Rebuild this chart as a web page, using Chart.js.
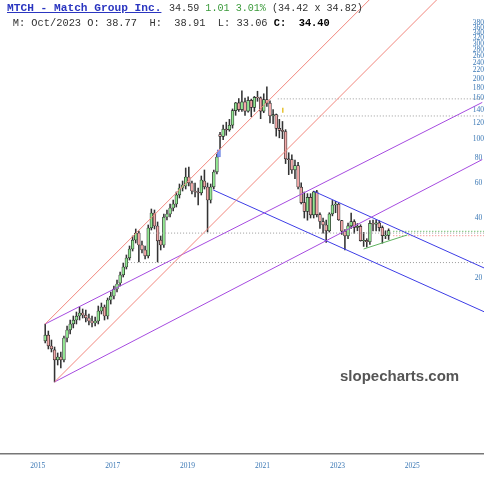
<!DOCTYPE html>
<html>
<head>
<meta charset="utf-8">
<script src="https://cdn.jsdelivr.net/npm/chart.js@4.4.1/dist/chart.umd.min.js"></script>
<style>
  body { margin: 0; background: #fff; }
  #wrap { position: relative; width: 484px; height: 480px; }
  .hd { position: absolute; white-space: pre; font-family: 'Liberation Mono', 'Courier New', monospace; color: #333; line-height: 1; }
  #wm { position: absolute; left: 340px; top: 368px; font: bold 15px 'Liberation Sans', Arial, sans-serif; color: #555; line-height: 1; }
</style>
</head>
<body>
<div id="wrap">
  <canvas id="chart" width="484" height="480"></canvas>
  <div class="hd" style="left:7px;top:3.4px;font-size:11.2px;font-weight:bold;color:#2a35c0;text-decoration:underline">MTCH - Match Group Inc.</div>
  <div class="hd" style="left:169px;top:4.3px;font-size:10.1px">34.59 <span style="color:#3a9a3a">1.01 3.01%</span> (34.42 x 34.82)</div>
  <div class="hd" style="left:12.7px;top:18px;font-size:10.37px">M: Oct/2023 O: 38.77  H:  38.91  L: 33.06 <b style="color:#000">C:  34.40</b></div>
  <div id="wm">slopecharts.com</div>
</div>
<script>
// monthly candles, Nov 2015 .. Jan 2025
const firstMonth = [2015, 11]
const open = [9.66,10.35,9.12,8.71,7.76,8.03,7.76,10.0,10.97,11.76,12.31,12.89,13.35,13.04,12.6,12.17,11.89,12.17,13.66,14.31,12.89,15.51,16.24,17.61,18.87,20.71,22.71,25.2,27.96,31.02,33.64,29.28,27.64,25.79,35.64,42.38,36.47,31.02,29.28,40.46,41.89,44.9,47.02,52.18,56.57,57.89,64.24,59.94,54.64,54.02,53.4,61.34,57.23,49.24,57.23,68.06,105,102.7,111.7,110.7,116.8,138.3,151.2,140,153,137.4,155.6,143.4,161.3,160.3,137.4,157,150.8,130,132.2,112.6,110,108.7,79.2,78.5,69.7,73.3,57.2,47.75,43.2,50.8,41.5,54.1,41.6,38.4,36.9,34.5,41.9,46.5,46.9,38.77,34.4,32.5,36.5,38.4,35.9,36.3,30.8,30.9,30.4,37.6,37.2,37.8,35.8,32.6,32.7]
const high = [11.76,10.84,9.77,9.01,8.41,8.51,10.23,11.49,12.31,12.89,13.5,14.31,13.98,13.82,13.2,12.89,12.75,14.47,14.98,14.64,15.87,17.01,18.23,19.54,21.44,23.78,26.09,28.95,32.49,35.23,34.42,30.67,28.95,36.9,44.38,43.87,38.2,32.49,41.89,43.87,47.02,49.24,54.02,59.25,61.34,71.28,72.1,61.34,59.94,56.57,64.99,69.65,59.94,59.25,69.65,83.78,107.5,117,121,125,141,152,159,174,160,162,158,163,173,162,168,182,155,140,133,125,122,111,85,83,78,76,60,54,53,53,54.5,55,42.5,40,39,42.5,49,48.5,47.5,38.91,35,37.7,42.4,39.2,37.5,37,33.9,31.5,38.8,39,39.2,38.8,36.5,34.5,35.3]
const low = [9.44,8.81,8.51,6.02,7.32,7.07,7.58,9.55,10.47,11.23,11.76,12.31,12.6,12.03,11.62,11.36,11.49,11.76,13.2,12.31,12.45,14.81,15.69,17.01,18.23,20.23,22.19,24.62,27.32,29.97,24.06,26.7,24.91,25.2,34.82,35.23,24.06,27.64,28.5,39.09,40.46,43.37,45.42,50.4,54.64,55.92,57.89,52.78,50.99,46.48,52.18,55.92,34.03,47.57,55.92,66.5,88.5,99,104,109,113,131,137,137,131,136,129,137,154,126,135,145,120,119,103,101,100,75,66,67,63,56,47,40,39,40,40,40.5,35.5,33.6,30.2,34,41,42.5,38.9,33.06,27.7,31.5,35.5,33.5,34.5,30.6,28.8,28.6,29.5,34.5,34.5,34.4,29.9,31.5,31.2]
const close = [10.35,9.12,8.81,7.76,8.03,7.76,10.0,10.97,11.76,12.31,12.89,13.35,13.04,12.6,12.17,11.89,12.17,13.66,14.31,12.89,15.51,16.24,17.61,18.66,20.71,22.71,25.2,27.96,31.02,33.64,29.28,27.64,25.79,35.64,42.38,36.47,30.67,29.28,40.46,41.89,44.9,47.02,52.18,56.57,58.57,64.24,59.94,54.64,54.02,53.4,62.05,57.23,49.24,57.23,68.06,80.93,102.7,111.7,110.7,116.8,138.3,151.2,140,153,137.4,155.6,143.4,161.3,160.3,137.4,157,150.8,130,132.2,112.6,110,108.7,79.2,78.5,69.7,73.3,57.2,47.75,43.2,50.8,41.5,54.1,41.6,38.4,36.9,34.5,41.9,46.5,46.9,39.2,34.4,32.5,36.5,38.4,35.9,36.3,30.8,30.9,30.4,37.6,37.2,37.8,35.8,32.6,32.7,34.59]

// blue event box (Jul 2020) and small yellow note marker
const markIdx = [55.6]
const markRange = [[81, 88]]
const noteIdx = [76.1]
const notePrice = [139]

// drawn trendlines: [month index, price] pairs
const redLines = [[[0, 11.76], [112, 668]], [[3, 6.02], [135, 703]]]
const purpleLines = [[[0, 11.76], [140, 152.1]], [[3, 6.02], [140, 78.6]]]
const blueLines = [[[53.8, 55.3], [141, 13.45]], [[86, 54.5], [141, 22.3]]]
const greenLine = [[102, 27.96], [116, 32.9]]
// horizontal dotted levels: [from index, to index, price]
const grayLevels = [[74.5, 141, 158.4], [74.5, 141, 130], [33.6, 141, 33.6], [26.5, 141, 23.9]]
const greenLevel = [111.5, 141, 34.3]
const redLevel = [111.5, 141, 32.6]

const yTicks = [20, 40, 60, 80, 100, 120, 140, 160, 180, 200, 220, 240, 260, 280, 300, 320, 340, 360, 380]
const xTickIdx = [-2.4, 21.6, 45.6, 69.6, 93.6, 117.6]
const xTickLabels = ['2015', '2017', '2019', '2021', '2023', '2025']

const months = open.map((v, i) => {
  const m = firstMonth[1] - 1 + i
  return (firstMonth[0] + Math.floor(m / 12)) + '-' + String(m % 12 + 1).padStart(2, '0')
})

const upColor = '#93e893'
const downColor = '#f2a8a8'
const tickColor = '#3b78b5'

function seg(pts, color, dash) {
  return {
    type: 'line',
    data: pts.map(p => ({ x: p[0], y: p[1] })),
    borderColor: color,
    borderWidth: 1,
    borderDash: dash || [],
    pointRadius: 0,
    pointHoverRadius: 0,
    fill: false,
    order: -1
  }
}
function level(l, color) {
  return seg([[l[0], l[2]], [l[1], l[2]]], color, [1, 2])
}

const datasets = [
  {
    label: 'bodies',
    data: months.map((m, i) => ({ x: i, y: [open[i], close[i]] })),
    backgroundColor: months.map((m, i) => close[i] >= open[i] ? upColor : downColor),
    borderColor: '#222',
    borderWidth: 0.7,
    borderSkipped: false,
    barThickness: 2.8,
    grouped: false,
    order: 1
  },
  {
    label: 'wicks',
    data: months.map((m, i) => ({ x: i, y: [low[i], high[i]] })),
    backgroundColor: '#333',
    barThickness: 0.9,
    grouped: false,
    order: 2
  },
  {
    label: 'mark',
    data: markIdx.map((x, i) => ({ x: x, y: markRange[i] })),
    backgroundColor: '#7f98f2',
    borderColor: '#4a62d8',
    borderWidth: 0.6,
    borderSkipped: false,
    barThickness: 3.2,
    grouped: false,
    order: 0
  },
  {
    type: 'scatter',
    label: 'note',
    data: noteIdx.map((x, i) => ({ x: x, y: notePrice[i] })),
    pointStyle: 'line',
    rotation: 90,
    radius: 2.5,
    borderColor: '#e6c230',
    borderWidth: 1.5,
    order: -2
  }
]
redLines.forEach(l => datasets.push(seg(l, '#f2877e')))
purpleLines.forEach(l => datasets.push(seg(l, '#a64be0')))
blueLines.forEach(l => datasets.push(seg(l, '#3d3de6')))
datasets.push(seg(greenLine, '#5fb35f'))
grayLevels.forEach(l => datasets.push(level(l, '#9a9a9a')))
datasets.push(level(greenLevel, '#3aa83a'))
datasets.push(level(redLevel, '#f07070'))

new Chart(document.getElementById('chart'), {
  type: 'bar',
  data: { datasets: datasets },
  options: {
    responsive: false,
    animation: false,
    layout: { padding: 0, autoPadding: false },
    plugins: { legend: { display: false }, tooltip: { enabled: false } },
    scales: {
      x: {
        type: 'linear',
        offset: false,
        min: -14.48,
        max: 140.55,
        bounds: 'data',
        grid: { display: false, drawTicks: false, offset: false },
        border: { display: true, color: '#777', width: 1.5 },
        ticks: {
          autoSkip: false,
          maxRotation: 0,
          padding: 8,
          color: tickColor,
          font: { family: 'Liberation Serif', size: 7.5 },
          callback: function (v) {
            const k = xTickIdx.indexOf(v)
            return k >= 0 ? xTickLabels[k] : ''
          }
        },
        afterBuildTicks: function (s) {
          s.ticks = xTickIdx.map(v => ({ value: v }))
        },
        afterFit: function (s) {
          s.height = 26
          s.paddingLeft = 0
          s.paddingRight = 0
        }
      },
      y: {
        type: 'logarithmic',
        position: 'right',
        min: 2.618,
        max: 496.4,
        bounds: 'data',
        grid: { display: false, drawTicks: false },
        border: { display: false },
        ticks: {
          mirror: true,
          crossAlign: 'center',
          padding: 0,
          autoSkip: false,
          color: tickColor,
          font: { family: 'Liberation Serif', size: 7.5 },
          callback: function (v) {
            return String(v)
          }
        },
        afterBuildTicks: function (s) {
          s.ticks = yTicks.map(v => ({ value: v }))
        },
        afterFit: function (s) {
          s.width = 0
          s.paddingTop = 0
          s.paddingBottom = 0
        }
      }
    }
  }
})
</script>
</body>
</html>
